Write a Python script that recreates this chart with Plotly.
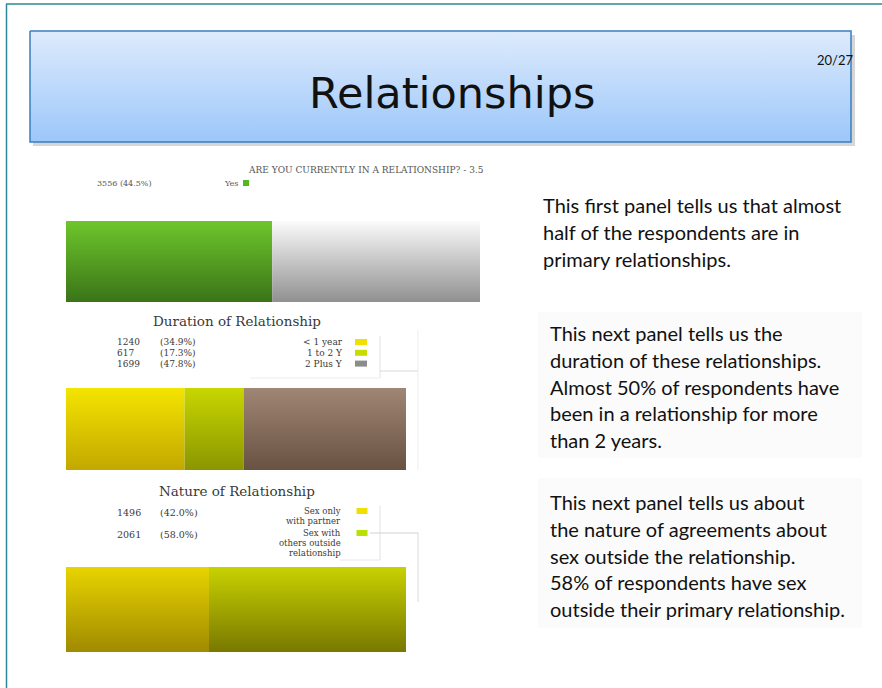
import plotly.graph_objects as go

# ---- data -------------------------------------------------------------
rel_labels = ["Yes", "Other"]
rel_counts = [3556, 4435]
rel_pct = [44.5]

dur_labels = ["< 1 year", "1 to 2 Y", "2 Plus Y"]
dur_counts = [1240, 617, 1699]
dur_pct = [34.9, 17.3, 47.8]

nat_labels = [["Sex only", "with partner"], ["Sex with", "others outside", "relationship"]]
nat_counts = [1496, 2061]
nat_pct = [42.0, 58.0]

# ---- styling ----------------------------------------------------------
W, H = 882, 688
SERIF = "DejaVu Serif, Liberation Serif, serif"
SANS = "Lato, Open Sans, sans-serif"
TITLE_FONT = "DejaVu Sans, Open Sans, sans-serif"

# (top colour, bottom colour) for each bar segment
rel_colors = [("#6ec62c", "#3a7418"), ("#fbfbfb", "#909090")]
dur_colors = [("#f4e400", "#c2a800"), ("#c8d600", "#8a9600"), ("#a08674", "#685242")]
nat_colors = [("#e8d400", "#a08a00"), ("#c8d200", "#787800")]
rel_swatch = "#52b81e"
dur_swatch = ["#f0e000", "#c8dc00", "#8c8c8c"]
nat_swatch = ["#f0e000", "#b8e000"]

panel_text = [
    ["This first panel tells us that almost",
     "half of the respondents are in",
     "primary relationships."],
    ["This next panel tells us the",
     "duration of these relationships.",
     "Almost 50% of respondents have",
     "been in a relationship for more",
     "than 2 years."],
    ["This next panel tells us about",
     "the nature of agreements about",
     "sex outside the relationship.",
     "58% of respondents have sex",
     "outside their primary relationship."],
]

fig = go.Figure()


def gradient_box(x, y, top, bottom, xa, ya, line=None):
    # vertical fillgradient runs bottom (0) -> top (1) on screen
    fig.add_trace(go.Scatter(
        x=x, y=y, mode="lines", fill="toself",
        fillgradient=dict(type="vertical", colorscale=[[0, bottom], [1, top]]),
        line=line or dict(width=0),
        hoverinfo="skip", showlegend=False,
        xaxis=xa, yaxis=ya,
    ))


def stacked_bar(counts, colors, xa, ya):
    left = 0
    for c, (top, bottom) in zip(counts, colors):
        right = left + c
        gradient_box([left, right, right, left, left], [1, 1, 0, 0, 1],
                     top, bottom, xa, ya)
        left = right


# title box (pixel axis, y reversed)
fig.add_shape(type="rect", x0=33, x1=855, y0=35, y1=146, xref="x", yref="y",
              fillcolor="rgba(0,0,0,0.16)", line_width=0, layer="below")
gradient_box([30, 851, 851, 30, 30], [31, 31, 142, 142, 31], "#deebfc", "#9cc7fa",
             "x", "y", line=dict(color="#3a7fc0", width=1.5))

# bars
stacked_bar(rel_counts, rel_colors, "x2", "y2")
stacked_bar(dur_counts, dur_colors, "x3", "y3")
stacked_bar(nat_counts, nat_colors, "x4", "y4")

# ---- decoration shapes ------------------------------------------------
shapes = [
    dict(type="line", x0=6, x1=882, y0=4, y1=4, line=dict(color="#2a8a96", width=1.5)),
    dict(type="line", x0=6.5, x1=6.5, y0=4, y1=688, line=dict(color="#2a8a96", width=1.5)),
    dict(type="rect", x0=538, x1=862, y0=312, y1=458, fillcolor="#fbfbfb", line_width=0, layer="below"),
    dict(type="rect", x0=538, x1=862, y0=478, y1=628, fillcolor="#fbfbfb", line_width=0, layer="below"),
    # faint legend frames / connectors
    dict(type="line", x0=380, x1=380, y0=336, y1=378, line=dict(color="#e2e2e2", width=1)),
    dict(type="line", x0=250, x1=380, y0=378, y1=378, line=dict(color="#ececec", width=1)),
    dict(type="line", x0=380, x1=418, y0=371, y1=371, line=dict(color="#d8d8d8", width=1)),
    dict(type="line", x0=418, x1=418, y0=330, y1=470, line=dict(color="#ededed", width=1)),
    dict(type="line", x0=380, x1=380, y0=506, y1=560, line=dict(color="#e2e2e2", width=1)),
    dict(type="line", x0=340, x1=380, y0=560, y1=560, line=dict(color="#e6e6e6", width=1)),
    dict(type="line", x0=370, x1=418, y0=533, y1=533, line=dict(color="#d2d2d2", width=1)),
    dict(type="line", x0=418, x1=418, y0=533, y1=602, line=dict(color="#dadada", width=1)),
]


def swatch(xc, yc, color, w=12, h=6):
    shapes.append(dict(type="rect", x0=xc - w / 2, x1=xc + w / 2, y0=yc - h / 2, y1=yc + h / 2,
                       fillcolor=color, line_width=0))


# ---- annotations ------------------------------------------------------
ann = []


def txt(x, y, text, size, color="#3a3a3a", family=SERIF, xanchor="left"):
    ann.append(dict(x=x, y=y, xref="x", yref="y", text=text, showarrow=False,
                    xanchor=xanchor, yanchor="middle",
                    font=dict(family=family, size=size, color=color)))


txt(452, 93, "Relationships", 43, color="#111", family=TITLE_FONT, xanchor="center")
txt(835, 60, "20/27", 13, color="#111", family=SANS, xanchor="center")

# panel 1 (source image is cropped on the right)
txt(486, 170, "ARE YOU CURRENTLY IN A RELATIONSHIP? - 3.5", 9, color="#555", xanchor="right")
txt(95, 183.5, f"{rel_counts[0]} ({rel_pct[0]}%)", 8, color="#555")
txt(240, 183.5, rel_labels[0], 8, color="#555", xanchor="right")
swatch(246, 183, rel_swatch, w=6, h=6)

# panel 2
txt(237, 321, "Duration of Relationship", 13.5, xanchor="center")
for i, (lab, c, p) in enumerate(zip(dur_labels, dur_counts, dur_pct)):
    yy = 342 + i * 10.8
    txt(115, yy, str(c), 9)
    txt(158, yy, f"({p}%)", 9)
    txt(345, yy, lab, 9, xanchor="right")
    swatch(361, yy, dur_swatch[i])

# panel 3
txt(237, 491, "Nature of Relationship", 13.5, xanchor="center")
label_rows = [511, 533]
for i, (lab, c, p) in enumerate(zip(nat_labels, nat_counts, nat_pct)):
    yy = label_rows[i]
    txt(115, yy + 1, str(c), 9.5)
    txt(158, yy + 1, f"({p}%)", 9.5)
    for j, part in enumerate(lab):
        txt(343, yy + j * 10, part, 8.5, xanchor="right")
    swatch(362, yy, nat_swatch[i], w=11)

# right column text
starts = [(541, 205), (548, 333), (548, 502)]
for (x0, y0), lines in zip(starts, panel_text):
    for k, line in enumerate(lines):
        txt(x0, y0 + k * 26.8, line, 20, color="#111", family=SANS)

for s in shapes:
    s.update(xref="x", yref="y")
    fig.add_shape(**s)
fig.update_layout(annotations=ann)

# ---- axes -------------------------------------------------------------
def dom_x(a, b):
    return [a / W, b / W]


def dom_y(top, bottom):
    return [1 - bottom / H, 1 - top / H]


hidden = dict(visible=False, fixedrange=True, showgrid=False, zeroline=False)
fig.update_layout(
    width=W, height=H,
    margin=dict(l=0, r=0, t=0, b=0),
    paper_bgcolor="white", plot_bgcolor="rgba(0,0,0,0)",
    showlegend=False,
    xaxis=dict(domain=[0, 1], range=[0, W], **hidden),
    yaxis=dict(domain=[0, 1], range=[H, 0], **hidden),
    # first panel image is cropped: only ~half of the total shows, green ends mid-way
    xaxis2=dict(domain=dom_x(66, 480), range=[0, rel_counts[0] / 0.498], anchor="y2", **hidden),
    yaxis2=dict(domain=dom_y(221, 302), range=[0, 1], anchor="x2", **hidden),
    xaxis3=dict(domain=dom_x(66, 406), range=[0, sum(dur_counts)], anchor="y3", **hidden),
    yaxis3=dict(domain=dom_y(388, 470), range=[0, 1], anchor="x3", **hidden),
    xaxis4=dict(domain=dom_x(66, 406), range=[0, sum(nat_counts)], anchor="y4", **hidden),
    yaxis4=dict(domain=dom_y(567, 652), range=[0, 1], anchor="x4", **hidden),
)

fig.write_html("out.html", config={"displayModeBar": False},
               post_script="document.body.style.margin='0';")
